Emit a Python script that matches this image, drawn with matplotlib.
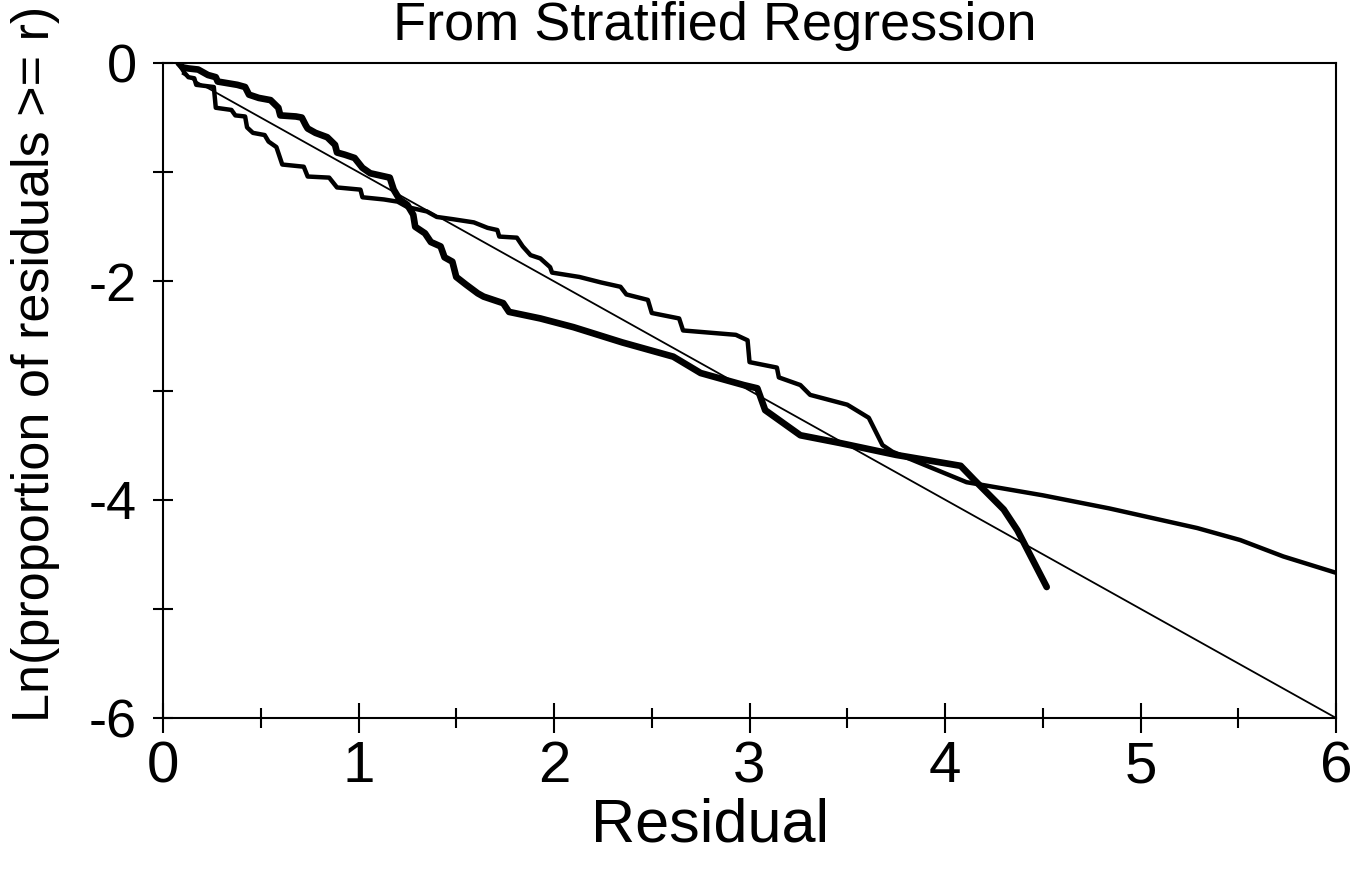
import numpy as np
import matplotlib
matplotlib.use('Agg')
import matplotlib.pyplot as plt
from matplotlib.ticker import MultipleLocator

plt.rcParams['font.family'] = ['Liberation Sans', 'DejaVu Sans']
plt.rcParams['axes.unicode_minus'] = False

# thick step curve (ends near 4.5)
thick_x = [0.08, 0.10, 0.13, 0.18, 0.23, 0.27, 0.28, 0.38, 0.42, 0.44, 0.49, 0.55,
           0.59, 0.60, 0.68, 0.71, 0.73, 0.74, 0.78, 0.81, 0.84, 0.88, 0.89, 0.93,
           0.98, 1.02, 1.06, 1.16, 1.18, 1.21, 1.25, 1.28, 1.29, 1.34, 1.37, 1.42,
           1.44, 1.48, 1.50, 1.55, 1.61, 1.64, 1.74, 1.77, 1.93, 2.10, 2.35, 2.61,
           2.75, 2.97, 3.04, 3.08, 3.26, 3.46, 3.75, 4.08, 4.15, 4.30, 4.37, 4.52]
thick_y = [0.00, -0.04, -0.05, -0.06, -0.11, -0.13, -0.17, -0.20, -0.22, -0.29, -0.32, -0.34,
           -0.41, -0.48, -0.49, -0.50, -0.57, -0.60, -0.64, -0.66, -0.68, -0.75, -0.82, -0.84,
           -0.87, -0.96, -1.01, -1.05, -1.16, -1.25, -1.30, -1.39, -1.50, -1.56, -1.64, -1.68,
           -1.78, -1.82, -1.96, -2.03, -2.11, -2.14, -2.20, -2.28, -2.34, -2.42, -2.56, -2.69,
           -2.84, -2.95, -2.98, -3.18, -3.41, -3.48, -3.59, -3.69, -3.82, -4.09, -4.28, -4.80]

# medium step curve (runs to 6)
med_x = [0.08, 0.11, 0.13, 0.16, 0.17, 0.26, 0.27, 0.35, 0.37, 0.42, 0.43, 0.46,
         0.52, 0.54, 0.58, 0.61, 0.72, 0.74, 0.85, 0.89, 1.01, 1.02, 1.13, 1.20,
         1.25, 1.35, 1.40, 1.48, 1.59, 1.66, 1.71, 1.72, 1.81, 1.84, 1.88, 1.93,
         1.98, 1.99, 2.13, 2.24, 2.34, 2.37, 2.48, 2.50, 2.64, 2.66, 2.93, 2.99,
         3.00, 3.14, 3.15, 3.26, 3.31, 3.50, 3.61, 3.68, 3.73, 4.11, 4.50, 4.84,
         5.29, 5.51, 5.73, 6.00]
med_y = [0.00, -0.09, -0.13, -0.14, -0.20, -0.22, -0.41, -0.43, -0.48, -0.49, -0.59, -0.64,
         -0.66, -0.72, -0.77, -0.93, -0.95, -1.04, -1.05, -1.14, -1.16, -1.23, -1.25, -1.27,
         -1.32, -1.36, -1.41, -1.43, -1.46, -1.51, -1.53, -1.59, -1.60, -1.68, -1.76, -1.79,
         -1.87, -1.92, -1.96, -2.01, -2.05, -2.12, -2.17, -2.29, -2.34, -2.45, -2.49, -2.54,
         -2.74, -2.79, -2.88, -2.95, -3.04, -3.13, -3.25, -3.50, -3.56, -3.84, -3.96, -4.08,
         -4.26, -4.37, -4.52, -4.67]

# reference line
ref_x = [0.1, 6.0]
ref_y = [-0.1, -6.0]

fig = plt.figure(figsize=(13.56, 8.86), dpi=100)
ax = fig.add_axes([0.1202, 0.1896, 0.8651, 0.7393])

ax.plot(ref_x, ref_y, color='black', linewidth=1.3)
ax.plot(med_x, med_y, color='black', linewidth=3.2, solid_joinstyle='round')
ax.plot(thick_x, thick_y, color='black', linewidth=4.8, solid_joinstyle='round',
        solid_capstyle='round')

ax.set_xlim(0, 6)
ax.set_ylim(-6, 0)
ax.xaxis.set_major_locator(MultipleLocator(1))
ax.xaxis.set_minor_locator(MultipleLocator(0.5))
ax.yaxis.set_major_locator(MultipleLocator(2))
ax.yaxis.set_minor_locator(MultipleLocator(1))
ax.tick_params(axis='x', which='major', direction='inout', length=22, width=1.5,
               labelsize=42, pad=5)
ax.tick_params(axis='x', which='minor', direction='inout', length=14, width=1.5)
ax.tick_params(axis='y', which='both', direction='inout', length=14, width=1.5,
               labelsize=39, pad=12)
for s in ax.spines.values():
    s.set_linewidth(1.5)

ax.set_xlabel('Residual', fontsize=44)
ax.xaxis.set_label_coords(0.466, -0.122)
ax.set_ylabel('Ln(proportion of residuals >= r)', fontsize=37.5)
ax.yaxis.set_label_coords(-0.088, 0.54)
fig.text(0.527, 0.955, 'From Stratified Regression', fontsize=39,
         ha='center', va='baseline')

fig.savefig('out.png', dpi=100)
